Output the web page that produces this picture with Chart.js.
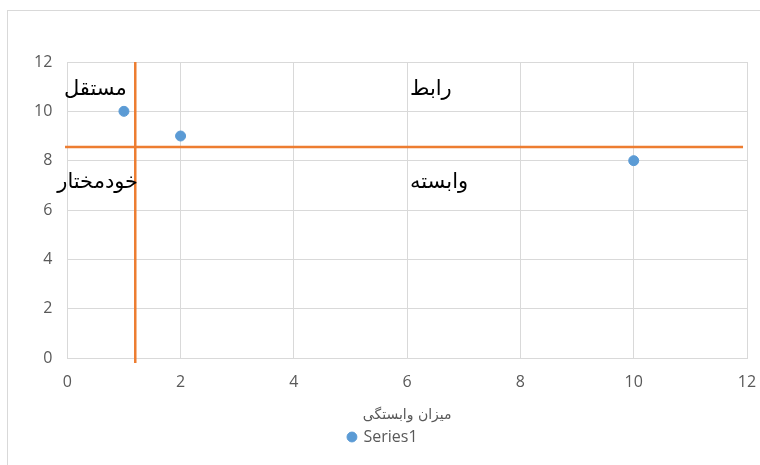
<!DOCTYPE html>
<html>
<head>
<meta charset="utf-8">
<script src="https://cdn.jsdelivr.net/npm/chart.js@4"></script>
<style>
  html, body { margin: 0; padding: 0; background: #fff; overflow: hidden; }
  #frame { position: absolute; left: 7px; top: 10px; width: 800px; height: 500px; border: 1px solid #d9d9d9; }
  #wrap { position: absolute; left: 0; top: 0; width: 760px; height: 465px; }
</style>
</head>
<body>
<div id="frame"></div>
<div id="wrap"><canvas id="grafico"></canvas></div>
<script>
// dados do gráfico
const pontosX = [1, 2, 10];
const pontosY = [10, 9, 8];
const serieNome = "Series1";
const tituloX = "میزان وابستگی";

// linhas de divisão (laranja)
const divisaoX = 1.2;
const divisaoY = 8.55;

// rótulos dos quadrantes
const rotulos = ["مستقل", "رابط", "خودمختار", "وابسته"];
const rotulosX = [1.05, 6.05, 1.25, 6.05];
const rotulosY = [10.9, 10.9, 7.1, 7.1];

const pontos = pontosX.map((x, i) => ({ x: x, y: pontosY[i] }));
const fonteTicks = { family: "'Open Sans', sans-serif", size: 16 };

// plugin que escreve os rótulos
const rotulosPlugin = {
  id: "rotulos",
  afterDatasetsDraw(chart) {
    const ctx = chart.ctx;
    const sx = chart.scales.x, sy = chart.scales.y;
    ctx.save();
    ctx.font = "21px 'DejaVu Sans'";
    ctx.fillStyle = "#000";
    ctx.textBaseline = "middle";
    rotulos.forEach((t, i) => {
      ctx.textAlign = i % 2 === 0 ? "right" : "left";
      ctx.fillText(t, sx.getPixelForValue(rotulosX[i]), sy.getPixelForValue(rotulosY[i]));
    });
    ctx.restore();
  }
};

new Chart(document.getElementById("grafico").getContext("2d"), {
  type: "scatter",
  data: {
    datasets: [
      {
        label: serieNome,
        data: pontos,
        backgroundColor: "#5B9BD5",
        borderColor: "#5B9BD5",
        pointRadius: 5,
        pointHoverRadius: 5,
        order: 0
      },
      {
        label: "v",
        data: [{ x: divisaoX, y: -0.2 }, { x: divisaoX, y: 12 }],
        showLine: true,
        borderColor: "#ED7D31",
        borderWidth: 2.5,
        pointRadius: 0,
        clip: false,
        order: 1
      },
      {
        label: "h",
        data: [{ x: -0.04, y: divisaoY }, { x: 11.93, y: divisaoY }],
        showLine: true,
        borderColor: "#ED7D31",
        borderWidth: 2.5,
        pointRadius: 0,
        clip: false,
        order: 1
      }
    ]
  },
  options: {
    responsive: true,
    maintainAspectRatio: false,
    animation: false,
    layout: { padding: { left: 19, right: 13, top: 62, bottom: 10 } },
    scales: {
      x: {
        min: 0, max: 12,
        afterFit: (scale) => { scale.paddingRight = 0; },
        ticks: { stepSize: 2, color: "#595959", font: fonteTicks, padding: 15 },
        grid: { color: "#d9d9d9", drawTicks: false },
        border: { color: "#d9d9d9" },
        title: {
          display: true,
          text: tituloX,
          color: "#595959",
          font: { family: "'DejaVu Sans'", size: 14 },
          padding: { top: 0, bottom: 0 }
        }
      },
      y: {
        min: 0, max: 12,
        ticks: { stepSize: 2, color: "#595959", font: fonteTicks, padding: 15 },
        grid: { color: "#d9d9d9", drawTicks: false },
        border: { color: "#d9d9d9" }
      }
    },
    plugins: {
      legend: {
        display: true,
        position: "bottom",
        labels: {
          filter: (item) => item.text === serieNome,
          usePointStyle: true,
          pointStyle: "circle",
          boxWidth: 7,
          boxHeight: 7,
          color: "#595959",
          font: fonteTicks,
          padding: 5
        }
      },
      tooltip: { enabled: false }
    }
  },
  plugins: [rotulosPlugin]
});
</script>
</body>
</html>
